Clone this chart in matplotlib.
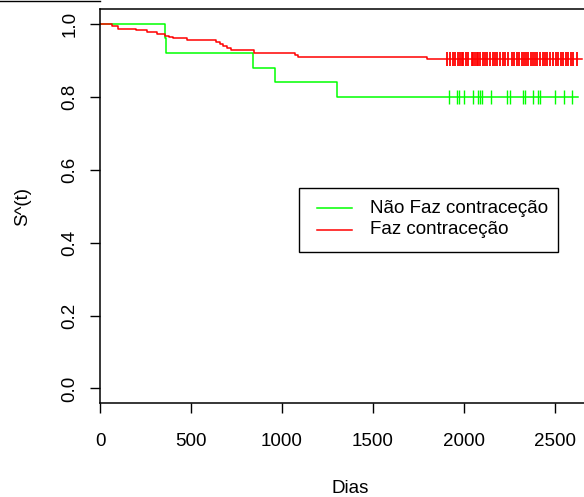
import numpy as np
import matplotlib
matplotlib.use("Agg")
import matplotlib.pyplot as plt
from matplotlib.lines import Line2D
from matplotlib.patches import Rectangle

# Kaplan-Meier step values
green_times = [0, 357, 362, 842, 963, 1304]
green_surv = [1.0, 0.96, 0.92, 0.88, 0.84, 0.80]
green_end = 2626
green_censor = [1918, 1963, 1974, 2002, 2051, 2079, 2088, 2097, 2147, 2238,
                2253, 2326, 2335, 2377, 2408, 2418, 2500, 2549, 2592]

red_times = [0, 68, 97, 196, 261, 311, 357, 379, 403, 476, 637, 659, 678,
             696, 718, 848, 1071, 1090, 1799]
red_surv = [1.0, 0.993, 0.986, 0.983, 0.977, 0.973, 0.968, 0.965, 0.961,
            0.955, 0.950, 0.945, 0.939, 0.935, 0.928, 0.919, 0.916, 0.910, 0.904]
red_end = 2650
red_censor = [1908, 1923, 1938, 1951, 1965, 1978, 1987, 1996, 2011, 2024,
              2042, 2051, 2060, 2070, 2079, 2088, 2103, 2115, 2128, 2143,
              2158, 2170, 2183, 2198, 2213, 2225, 2244, 2262, 2275, 2289,
              2302, 2317, 2330, 2341, 2353, 2366, 2377, 2390, 2403, 2418,
              2432, 2445, 2458, 2473, 2491, 2504, 2518, 2531, 2546, 2560,
              2573, 2586, 2601, 2619]

labels = ["Não Faz contraceção", "Faz contraceção"]
colors = ["#00ff00", "#ff0000"]
x_ticks = [0, 500, 1000, 1500, 2000, 2500]
y_ticks = [0.0, 0.2, 0.4, 0.6, 0.8, 1.0]

plt.rcParams['font.family'] = ['Liberation Sans', 'DejaVu Sans']
FS = 13.5

W, H = 584, 497
fig = plt.figure(figsize=(W / 100, H / 100), dpi=100)
# box runs past the right edge of the picture, like the original
ax = fig.add_axes([100 / W, (H - 403) / H, 501 / W, (403 - 9.3) / H])


def surv_at(times, surv, t):
    idx = np.searchsorted(times, t, side='right') - 1
    return np.asarray(surv)[idx]


curves = [(green_times, green_surv, green_end, green_censor, 1.0),
          (red_times, red_surv, red_end, red_censor, 1.3)]
for (times, surv, end, cens, mew), col in zip(curves, colors):
    ax.step(list(times) + [end], list(surv) + [surv[-1]], where='post',
            color=col, lw=1.1)
    ax.plot(cens, surv_at(times, surv, cens), ls='none', marker='|',
            ms=10, mew=mew, color=col)

ax.set_xlim(0, 2753)
ax.set_ylim(-0.04, 1.04)
ax.set_xticks(x_ticks)
ax.set_xticklabels([str(v) for v in x_ticks])
ax.set_yticks(y_ticks)
ax.set_yticklabels([f"{v:.1f}" for v in y_ticks], rotation=90, va='center')
ax.tick_params(axis='both', direction='out', length=7.5, width=1,
               labelsize=FS, color='black')
ax.tick_params(axis='x', pad=14)
ax.tick_params(axis='y', pad=8)
for s in ax.spines.values():
    s.set_linewidth(1.1)
    s.set_color('black')

ax.set_xlabel("Dias", fontsize=FS, labelpad=22)
ax.set_ylabel("S^(t)", fontsize=FS, labelpad=22)

# legend box drawn R-style in pixel positions
def px(x, y):
    return x / W, 1 - y / H

x0, y0 = px(299, 252)
x1, y1 = px(558, 188)
fig.add_artist(Rectangle((x0, y0), x1 - x0, y1 - y0, transform=fig.transFigure,
                         facecolor='white', edgecolor='black', lw=1.0))
for i, (lab, col) in enumerate(zip(labels, colors)):
    yy = 208 + 22 * i
    a, b = px(317, yy)
    c, _ = px(352, yy)
    fig.add_artist(Line2D([a, c], [b, b], transform=fig.transFigure,
                          color=col, lw=1.1))
    tx, ty = px(370, yy)
    fig.text(tx, ty, lab, fontsize=FS, ha='left', va='center')

# thin rule across the top-left corner of the picture
fig.add_artist(Line2D([0, 100 / W], [1 - 0.5 / H, 1 - 0.5 / H],
                      transform=fig.transFigure, color='black', lw=1))

fig.savefig("out.png", dpi=100)
